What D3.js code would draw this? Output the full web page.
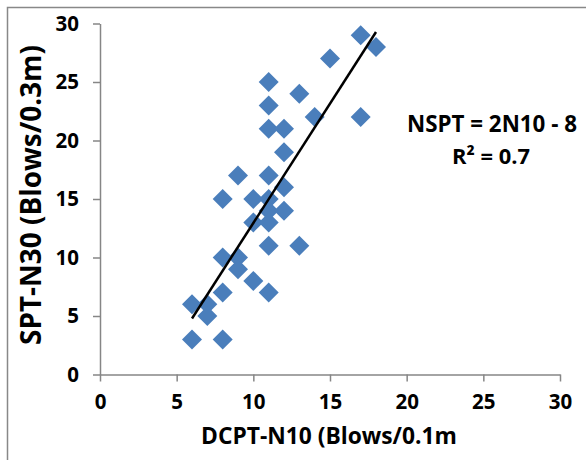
<!DOCTYPE html>
<html><head><meta charset="utf-8">
<script src="https://cdn.jsdelivr.net/npm/d3@7"></script>
<style>body{margin:0;background:#fff}svg{display:block}</style>
</head><body>
<svg id="c" width="586" height="460"></svg>
<script>
const dcptN10 = [17,18,15,11,13,11,14,17,11,12,12,9,11,12,8,10,11,11,12,10,11,11,13,8,9,9,10,8,11,6,7,7,6,8];
const sptN30  = [29,28,27,25,24,23,22,22,21,21,19,17,17,16,15,15,15,14,14,13,13,11,11,10,10,9,8,7,7,6,6,5,3,3];
const xTicks = [0,5,10,15,20,25,30];
const yTicks = [0,5,10,15,20,25,30];
const trendSlope = 2.04, trendIntercept = -7.45;
const trendRange = [6, 18];
const xTitle = "DCPT-N10 (Blows/0.1m";
const yTitle = "SPT-N30 (Blows/0.3m)";
const eqLabel = "NSPT = 2N10 - 8";
const r2Label = "R² = 0.7";

const svg = d3.select("#c");
const font = "'Open Sans', Lato, sans-serif";
// outer frame
svg.append("path").attr("d","M7.5,460 L7.5,7.5 L586,7.5").attr("fill","none").attr("stroke","#888").attr("stroke-width",1.5);

const x = d3.scaleLinear().domain([0,30]).range([100,560]);
const y = d3.scaleLinear().domain([0,30]).range([374.5,23.5]);

const axisColor = "#868686";
const gx = svg.append("g").attr("transform","translate(0,374.5)")
  .call(d3.axisBottom(x).tickValues(xTicks).tickSize(7).tickPadding(13).tickSizeOuter(0));
const gy = svg.append("g").attr("transform","translate(100,0)")
  .call(d3.axisLeft(y).tickValues(yTicks).tickSize(7).tickPadding(14).tickSizeOuter(0));
[gx,gy].forEach(g=>{
  g.select(".domain").attr("stroke",axisColor).attr("stroke-width",1.5);
  g.selectAll(".tick line").attr("stroke",axisColor).attr("stroke-width",1.5);
  g.selectAll("text").attr("font-family",font).attr("font-weight","bold").attr("font-size",20.5).attr("fill","#000");
});

// points
svg.append("g").selectAll("path").data(dcptN10.map((d,i)=>[d,sptN30[i]])).join("path")
  .attr("transform",d=>`translate(${x(d[0])},${y(d[1])})`)
  .attr("d","M0,-10 L10,0 L0,10 L-10,0 Z")
  .attr("fill","#4A7EBB");

// trendline
svg.append("line")
  .attr("x1",x(trendRange[0])).attr("y1",y(trendSlope*trendRange[0]+trendIntercept))
  .attr("x2",x(trendRange[1])).attr("y2",y(trendSlope*trendRange[1]+trendIntercept))
  .attr("stroke","#000").attr("stroke-width",2.5);

function fit(sel, target){
  const w = sel.node().getComputedTextLength();
  const fs = parseFloat(sel.attr("font-size"));
  sel.attr("font-size", fs*target/w);
}
// labels
fit(svg.append("text").attr("x",329).attr("y",444).attr("text-anchor","middle")
  .attr("font-family",font).attr("font-weight","bold").attr("font-size",20).text(xTitle), 256);
fit(svg.append("text").attr("transform","translate(41,195) rotate(-90)").attr("text-anchor","middle")
  .attr("font-family",font).attr("font-weight","bold").attr("font-size",20).text(yTitle), 300);
fit(svg.append("text").attr("x",492).attr("y",131.5).attr("text-anchor","middle")
  .attr("font-family",font).attr("font-weight","bold").attr("font-size",20).text(eqLabel), 170);
fit(svg.append("text").attr("x",491).attr("y",164).attr("text-anchor","middle")
  .attr("font-family",font).attr("font-weight","bold").attr("font-size",20).text(r2Label), 78);
</script>
</body></html>
